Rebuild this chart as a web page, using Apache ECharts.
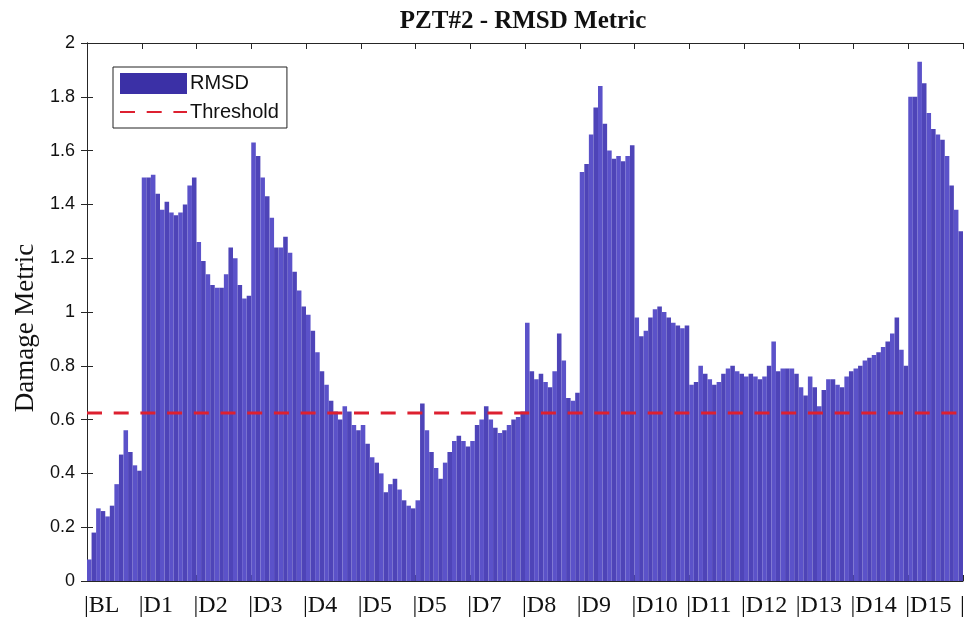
<!DOCTYPE html>
<html>
<head>
<meta charset="utf-8">
<script src="https://cdn.jsdelivr.net/npm/echarts@6/dist/echarts.min.js"></script>
<style>html,body{margin:0;padding:0;background:#fff}#c{width:971px;height:624px}</style>
</head>
<body>
<div id="c"></div>
<script>
// Tick labels of the x axis (one per damage stage)
var groupLabels = ['BL','D1','D2','D3','D4','D5','D5','D7','D8','D9','D10','D11','D12','D13','D14','D15'];
var yTicks = [0,0.2,0.4,0.6,0.8,1,1.2,1.4,1.6,1.8,2];
var threshold = 0.625;

// RMSD values, 12 measurements per stage
var BL  = [0.08,0.18,0.27,0.26,0.24,0.28,0.36,0.47,0.56,0.48,0.43,0.41];
var D1  = [1.50,1.50,1.51,1.44,1.38,1.41,1.37,1.36,1.37,1.40,1.47,1.50];
var D2  = [1.26,1.19,1.14,1.10,1.09,1.09,1.14,1.24,1.20,1.10,1.05,1.06];
var D3  = [1.63,1.58,1.50,1.43,1.35,1.24,1.24,1.28,1.22,1.15,1.08,1.02];
var D4  = [0.99,0.93,0.85,0.78,0.73,0.67,0.63,0.60,0.65,0.63,0.58,0.56];
var D5a = [0.58,0.51,0.46,0.44,0.40,0.33,0.36,0.38,0.34,0.30,0.28,0.27];
var D5b = [0.30,0.66,0.56,0.48,0.42,0.38,0.44,0.48,0.52,0.54,0.52,0.50];
var D7  = [0.52,0.58,0.60,0.65,0.60,0.57,0.55,0.56,0.58,0.60,0.61,0.63];
var D8  = [0.96,0.78,0.75,0.77,0.74,0.72,0.78,0.92,0.82,0.68,0.67,0.70];
var D9  = [1.52,1.55,1.66,1.76,1.84,1.70,1.60,1.57,1.58,1.56,1.58,1.62];
var D10 = [0.98,0.91,0.93,0.98,1.01,1.02,1.00,0.98,0.96,0.95,0.94,0.95];
var D11 = [0.73,0.74,0.80,0.77,0.75,0.73,0.74,0.77,0.79,0.80,0.78,0.77];
var D12 = [0.76,0.77,0.76,0.75,0.76,0.80,0.89,0.78,0.79,0.79,0.79,0.77];
var D13 = [0.72,0.69,0.76,0.72,0.65,0.71,0.75,0.75,0.73,0.72,0.76,0.78];
var D14 = [0.79,0.80,0.82,0.83,0.84,0.85,0.87,0.89,0.92,0.98,0.86,0.80];
var D15 = [1.80,1.80,1.93,1.85,1.74,1.68,1.66,1.64,1.58,1.47,1.38,1.30];

var groups = [BL,D1,D2,D3,D4,D5a,D5b,D7,D8,D9,D10,D11,D12,D13,D14,D15];
var rmsd = [];
groups.forEach(function(g){ rmsd = rmsd.concat(g); });
var idx = rmsd.map(function(_, i){ return i; });

var chart = echarts.init(document.getElementById('c'), null, {renderer:'canvas'});
var axisCol = '#262626';
var nG = groupLabels.length;
chart.setOption({
  animation: false,
  backgroundColor: '#ffffff',
  title: {
    text: 'PZT#2 - RMSD Metric',
    left: 518, top: 4, textAlign: 'center',
    textStyle: {fontFamily: 'Liberation Serif', fontWeight: 'bold', fontSize: 25, color: '#111'}
  },
  legend: {
    left: 113, top: 67, orient: 'vertical',
    backgroundColor: '#fff',
    borderColor: '#222', borderWidth: 1,
    padding: [6, 8, 6, 6], itemGap: 8,
    itemWidth: 67, itemHeight: 21,
    textStyle: {fontFamily: 'Liberation Sans', fontSize: 20, color: '#111', padding: [0,0,0,-2]},
    data: [
      {name: 'RMSD', icon: 'rect', itemStyle: {color: '#3b30a6'}},
      {name: 'Threshold', itemStyle: {opacity: 0}}
    ]
  },
  grid: {left: 87, right: 8, top: 43, bottom: 43, containLabel: false},
  xAxis: [
    {type: 'category', data: idx, show: false, boundaryGap: true},
    {type: 'value', position: 'bottom', min: 0, max: nG, interval: 1,
     axisLine: {show: true, lineStyle: {color: axisCol, width: 1}},
     axisTick: {show: true, inside: true, length: 6, lineStyle: {color: axisCol}},
     splitLine: {show: false},
     axisLabel: {show: true, align: 'left', margin: 13, showMaxLabel: true,
       fontFamily: 'Liberation Serif', fontSize: 24, color: '#111', padding: [0,0,0,-3],
       formatter: function(v){ var i = Math.round(v); return i < nG ? '|' + groupLabels[i] : '|'; }}},
    {type: 'value', position: 'top', min: 0, max: nG, interval: 1,
     axisLine: {show: true, lineStyle: {color: axisCol, width: 1}},
     axisTick: {show: true, inside: true, length: 6, lineStyle: {color: axisCol}},
     splitLine: {show: false}, axisLabel: {show: false}}
  ],
  yAxis: [
    {type: 'value', position: 'left', min: yTicks[0], max: yTicks[yTicks.length-1], interval: 0.2,
     name: 'Damage Metric', nameLocation: 'middle', nameGap: 48, nameRotate: 90,
     nameTextStyle: {fontFamily: 'Liberation Serif', fontSize: 27, color: '#111', padding: [0, 32, 0, 0]},
     axisLine: {show: true, lineStyle: {color: axisCol, width: 1}},
     axisTick: {show: true, inside: true, length: 6, lineStyle: {color: axisCol}},
     splitLine: {show: false},
     axisLabel: {margin: 12, fontFamily: 'Liberation Sans', fontSize: 18, color: '#111'}},
    {type: 'value', position: 'right', min: yTicks[0], max: yTicks[yTicks.length-1], interval: 0.2,
     axisLine: {show: true, lineStyle: {color: axisCol, width: 1}},
     axisTick: {show: true, inside: true, length: 6, lineStyle: {color: axisCol}},
     splitLine: {show: false}, axisLabel: {show: false}}
  ],
  series: [
    {name: 'RMSD', type: 'bar', xAxisIndex: 0, yAxisIndex: 0, data: rmsd,
     barCategoryGap: '0%', barGap: '0%',
     itemStyle: {color: function(p){ return p.dataIndex % 2 === 0 ? '#5b52c9' : '#4e44b8'; }}},
    {name: 'Threshold', type: 'line', xAxisIndex: 1, yAxisIndex: 0,
     data: [[0, threshold], [nG, threshold]],
     symbol: 'none', showSymbol: false, z: 5,
     itemStyle: {color: '#dd2030'},
     lineStyle: {color: '#dd2030', width: 3, type: [15, 11.7]}}
  ]
});
</script>
</body>
</html>
